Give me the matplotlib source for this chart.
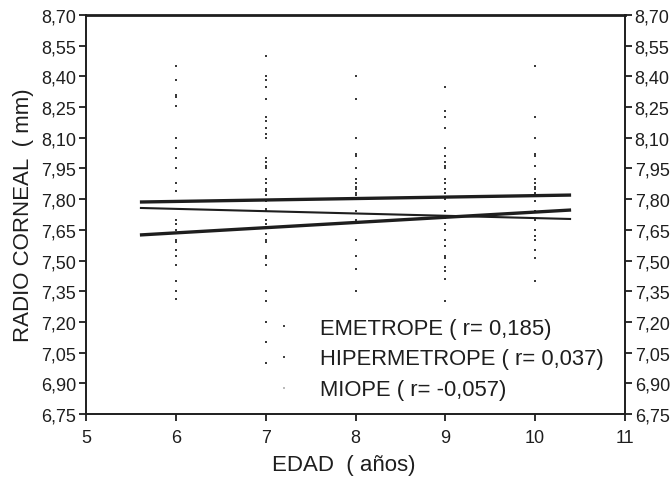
import matplotlib
matplotlib.use("Agg")
import matplotlib.pyplot as plt
from matplotlib.lines import Line2D

plt.rcParams['font.family'] = ['Liberation Sans', 'DejaVu Sans']

# ---------------- data ----------------
x_ticks = [5, 6, 7, 8, 9, 10, 11]
y_ticks = [6.75, 6.90, 7.05, 7.20, 7.35, 7.50, 7.65, 7.80, 7.95, 8.10, 8.25, 8.40, 8.55, 8.70]
y_tick_labels = ["6,75", "6,90", "7,05", "7,20", "7,35", "7,50", "7,65", "7,80",
                 "7,95", "8,10", "8,25", "8,40", "8,55", "8,70"]

# individual measurements (radio corneal, mm) per age
radio_6 = [8.45, 8.38, 8.31, 8.30, 8.255, 8.10, 8.05, 8.00, 7.95, 7.88, 7.84,
           7.70, 7.68, 7.65, 7.60, 7.59, 7.55, 7.52, 7.48, 7.40, 7.35, 7.31]
radio_7 = [8.50, 8.40, 8.38, 8.35, 8.29, 8.20, 8.18, 8.15, 8.12, 8.10, 8.00, 7.98,
           7.96, 7.95, 7.90, 7.88, 7.85, 7.84, 7.82, 7.79, 7.75, 7.74, 7.70, 7.68,
           7.66, 7.63, 7.60, 7.59, 7.52, 7.51, 7.48, 7.35, 7.30, 7.20, 7.10, 7.00]
radio_8 = [8.40, 8.29, 8.10, 8.02, 8.01, 7.95, 7.90, 7.88, 7.85, 7.82, 7.86, 7.83,
           7.74, 7.70, 7.60, 7.52, 7.46, 7.35]
radio_9 = [8.35, 8.23, 8.20, 8.15, 8.05, 8.01, 7.98, 7.96, 7.95, 7.90, 7.88, 7.85,
           7.83, 7.80, 7.74, 7.71, 7.68, 7.65, 7.60, 7.57, 7.52, 7.51, 7.47, 7.45,
           7.41, 7.30]
radio_10 = [8.45, 8.20, 8.10, 8.02, 8.01, 7.96, 7.90, 7.88, 7.85, 7.86, 7.83, 7.79,
            7.74, 7.70, 7.65, 7.62, 7.60, 7.55, 7.51, 7.40]
ages = [6, 7, 8, 9, 10]
radios = [radio_6, radio_7, radio_8, radio_9, radio_10]

# regression lines (endpoints)
fit_x = [5.6, 10.4]
emetrope_fit = [7.625, 7.747]
hipermetrope_fit = [7.786, 7.82]
miope_fit = [7.757, 7.703]

legend_labels = ["EMETROPE ( r= 0,185)", "HIPERMETROPE ( r= 0,037)", "MIOPE ( r= -0,057)"]

# ---------------- figure ----------------
fig = plt.figure(figsize=(6.72, 4.81), dpi=100)
ax = fig.add_axes([86/672, 1 - 415/481, (625-86)/672, (415-16)/481])

dark = "#1e1e1e"
for a, vals in zip(ages, radios):
    ax.plot([a]*len(vals), vals, linestyle="none", marker="s", markersize=1.6,
            markeredgewidth=0, color="#3a3a3a")

ax.plot(fit_x, hipermetrope_fit, color=dark, linewidth=2.4, solid_capstyle="butt")
ax.plot(fit_x, emetrope_fit, color=dark, linewidth=2.4, solid_capstyle="butt")
ax.plot(fit_x, miope_fit, color=dark, linewidth=1.5, solid_capstyle="butt")

ax.set_xlim(5, 11)
ax.set_ylim(6.75, 8.70)
ax.set_xticks(x_ticks)
ax.set_xticklabels([str(t) for t in x_ticks])
ax.set_yticks(y_ticks)
ax.set_yticklabels(y_tick_labels)

ax.tick_params(axis="both", direction="out", length=5, width=1.3, colors=dark,
               labelsize=13, pad=2)
ax.tick_params(axis="y", right=True, labelright=True)
ax.tick_params(axis="x", top=False, pad=6)
for s in ax.spines.values():
    s.set_linewidth(1.4)
    s.set_color(dark)
ax.spines["top"].set_linewidth(2.0)

ax.set_xlabel("EDAD  ( años)", fontsize=16, color=dark)
ax.xaxis.set_label_coords(0.478, -0.1)
ax.set_ylabel("RADIO CORNEAL  ( mm)", fontsize=16, color=dark, labelpad=5)

handles = [
    Line2D([], [], linestyle="none", marker="s", markersize=1.8, markeredgewidth=0, color="#444444"),
    Line2D([], [], linestyle="none", marker="s", markersize=1.8, markeredgewidth=0, color="#444444"),
    Line2D([], [], linestyle="none", marker="s", markersize=1.8, markeredgewidth=0, color="#bbbbbb"),
]
ax.legend(handles, legend_labels, loc="center left", bbox_to_anchor=(0.347, 0.138),
          frameon=False, fontsize=15.8, handlelength=1.0, handletextpad=1.15,
          labelspacing=0.45, borderpad=0, borderaxespad=0, labelcolor=dark)

fig.savefig("out.png", dpi=100)
